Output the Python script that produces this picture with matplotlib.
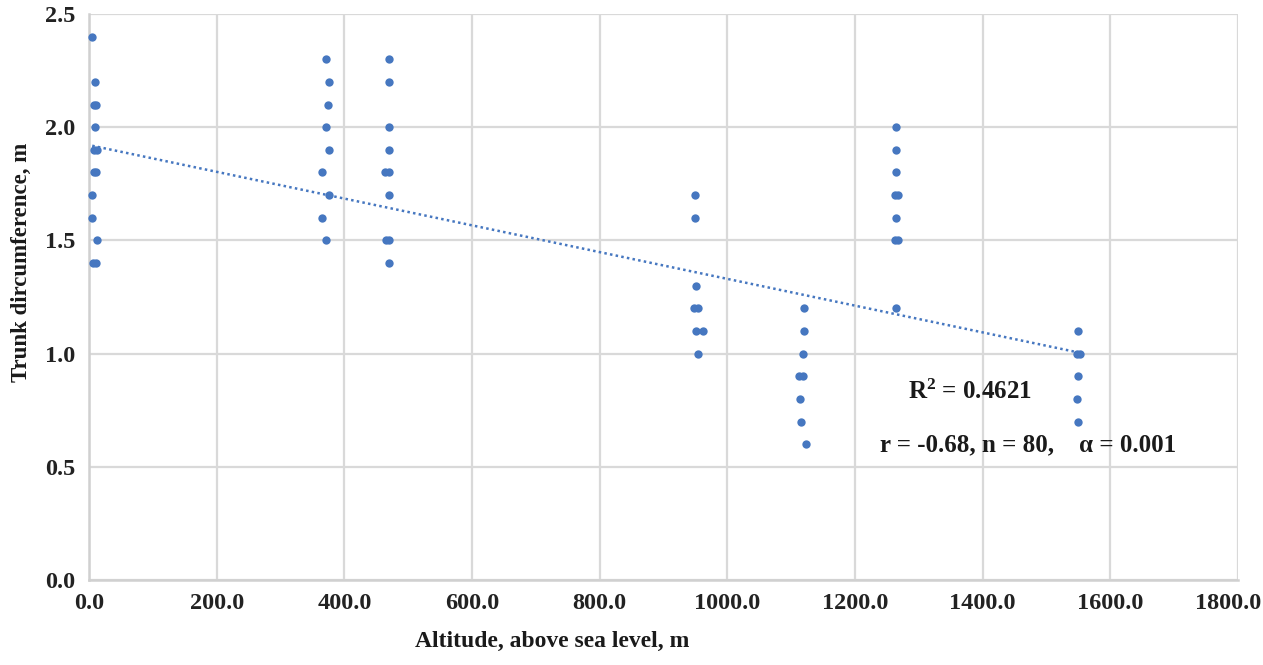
import matplotlib
matplotlib.use("Agg")
import matplotlib.pyplot as plt
import numpy as np

# Data
altitude = [5, 9, 7, 11, 9, 8, 12, 7, 11, 5, 5, 12, 6, 11,
            371, 376, 374, 371, 376, 365, 376, 365, 371,
            470, 470, 470, 470, 464, 470, 470, 470, 466, 470,
            949, 949, 951, 948, 954, 951, 962, 954,
            1120, 1120, 1119, 1112, 1119, 1114, 1115, 1123,
            1265, 1265, 1265, 1262, 1267, 1265, 1262, 1267, 1265,
            1550, 1548, 1552, 1550, 1548, 1550]
circumference = [2.4, 2.2, 2.1, 2.1, 2.0, 1.9, 1.9, 1.8, 1.8, 1.7, 1.6, 1.5, 1.4, 1.4,
                 2.3, 2.2, 2.1, 2.0, 1.9, 1.8, 1.7, 1.6, 1.5,
                 2.3, 2.2, 2.0, 1.9, 1.8, 1.8, 1.7, 1.5, 1.5, 1.4,
                 1.7, 1.6, 1.3, 1.2, 1.2, 1.1, 1.1, 1.0,
                 1.2, 1.1, 1.0, 0.9, 0.9, 0.8, 0.7, 0.6,
                 2.0, 1.9, 1.8, 1.7, 1.7, 1.6, 1.5, 1.5, 1.2,
                 1.1, 1.0, 1.0, 0.9, 0.8, 0.7]
trend_intercept = 1.921
trend_slope = -0.000591
x_ticks = [0, 200, 400, 600, 800, 1000, 1200, 1400, 1600, 1800]
y_ticks = [0.0, 0.5, 1.0, 1.5, 2.0, 2.5]
r2_text = "R$^2$ = 0.4621"
stats_text = "r = -0.68, n = 80,    \u03b1 = 0.001"

plt.rcParams['font.family'] = ['Liberation Serif', 'DejaVu Serif']
plt.rcParams['mathtext.fontset'] = 'custom'
plt.rcParams['mathtext.rm'] = 'Liberation Serif:bold'
plt.rcParams['mathtext.it'] = 'Liberation Serif:bold'
plt.rcParams['mathtext.bf'] = 'Liberation Serif:bold'

blue = '#4677C0'
grid_c = '#d9d9d9'
text_c = '#1a1a1a'
tick_c = '#222222'

fig = plt.figure(figsize=(12.63, 6.65), dpi=100)
ax = fig.add_axes([0.0705, 0.1278, 0.9097, 0.8512])

ax.set_xlim(0, 1800)
ax.set_ylim(0, 2.5)
ax.set_xticks(x_ticks)
ax.set_yticks(y_ticks)
ax.set_xticklabels([])
ax.set_yticklabels([f"{v:.1f}" for v in y_ticks])
ax.grid(True, color=grid_c, lw=1.6)
ax.set_axisbelow(True)
for s in ['top', 'right']:
    ax.spines[s].set_visible(False)
for s in ['left', 'bottom']:
    ax.spines[s].set_color('#d0d0d0')
    ax.spines[s].set_linewidth(1.8)
ax.tick_params(length=0, labelsize=17.5, colors=tick_c)
ax.tick_params(axis='y', pad=10)
for lab in ax.get_yticklabels():
    lab.set_fontweight('bold')

# x tick labels drawn as text under each tick (last one nudged to stay inside)
for i, v in enumerate(x_ticks):
    dx = -7 if i == len(x_ticks) - 1 else 0
    ax.annotate(f"{v:.1f}", xy=(v, 0), xycoords=('data', 'axes fraction'),
                xytext=(dx, -9), textcoords='offset points', ha='center', va='top',
                fontsize=17.5, fontweight='bold', color=tick_c, annotation_clip=False)

ax.scatter(altitude, circumference, s=36, color=blue, zorder=3, linewidths=0, clip_on=False)

tx = np.array([min(altitude), max(altitude)])
ax.plot(tx, trend_intercept + trend_slope * tx, color=blue, lw=1.8,
        linestyle=(0, (1, 1.3)), zorder=2)

ax.text(1380, 0.83, r2_text, ha='center', va='center', fontsize=18,
        fontweight='bold', color=text_c)
ax.text(1239, 0.596, stats_text, ha='left', va='center', fontsize=18,
        fontweight='bold', color=text_c)

ax.set_xlabel("Altitude, above sea level, m", fontsize=17, fontweight='bold', color=text_c)
ax.xaxis.set_label_coords(0.403, -0.108)
ax.xaxis.label.set_va('center')
ax.set_ylabel("Trunk dircumference, m", fontsize=16.5, fontweight='bold', color=text_c)
ax.yaxis.set_label_coords(-0.059, 0.562)
ax.yaxis.label.set_va('center')

fig.savefig("out.png", dpi=100)
